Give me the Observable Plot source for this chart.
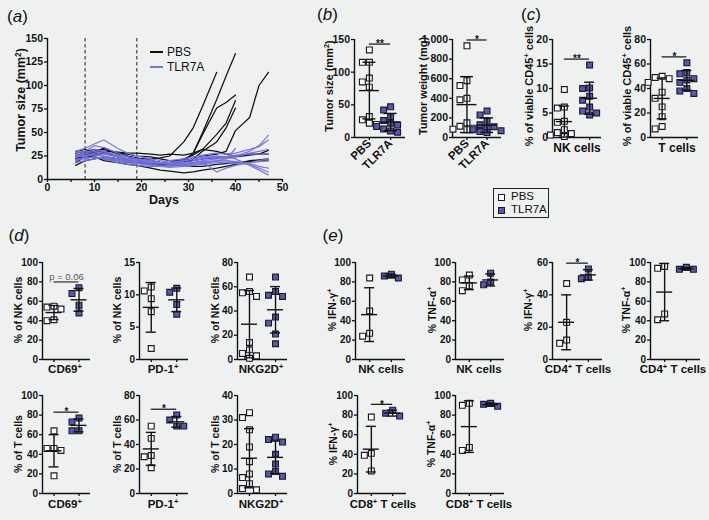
<!DOCTYPE html>
<html><head><meta charset="utf-8">
<script src="https://cdn.jsdelivr.net/npm/d3@7"></script>
<script src="https://cdn.jsdelivr.net/npm/@observablehq/plot@0.6"></script>
<style>
html,body{margin:0;padding:0;background:#eff1f1;}
#fig{position:relative;width:709px;height:520px;background:#eff1f1;font-family:"Liberation Sans",Arial,Helvetica,sans-serif;color:#111;overflow:hidden}
.lbl{position:absolute;white-space:nowrap;line-height:1;}
.lbl sup{font-size:0.66em;vertical-align:0.5em;line-height:0}
</style></head><body><div id="fig"></div>
<script>
// ---------- DATA ----------
const groups = ["PBS", "TLR7A"];

// (a) tumour growth curves: measurement days and tumour size per mouse (mm²)
const days = [6, 8, 10, 12, 15, 17, 19, 22, 24, 26, 29, 31, 33, 36, 38, 40, 43, 45, 47];
const pbsMice = [
  [20, 26, 28, 30, 25, 22, 22, 22, 23, 25, 40, 55, 78, 114],
  [24, 28, 30, 33, 28, 25, 23, 20, 18, 17, 20, 28, 50, 85, 110, 134],
  [28, 30, 32, 28, 24, 22, 20, 18, 16, 15, 18, 28, 48, 76, 82, 90],
  [18, 24, 26, 28, 24, 22, 21, 19, 18, 18, 22, 26, 32, 48, 60, 84],
  [22, 25, 24, 22, 20, 18, 18, 16, 15, 15, 17, 22, 30, 40, 55, 76],
  [25, 28, 30, 32, 28, 27, 25, 24, 22, 20, 20, 22, 25, 27, 30, 52, 66, 100, 114],
  [30, 32, 28, 30, 29, 28, 28, 27, 26, 27, 26, 28, 32, 30, 27, 25, 27, 27, 31],
  [26, 28, 26, 34, 27, 25, 22, 20, 18, 17, 18, 20, 22, 23, 24, 24, 26, 27, 27],
  [22, 26, 24, 20, 18, 16, 15, 12, 10, 9, 7, 8, 10, 12, 14, 16, 20, 21, 22],
  [15, 20, 22, 24, 22, 20, 19, 18, 17, 16, 15, 14, 14, 16, 17, 18, 19, 20, 20]
];
const tlrMice = [
  [30, 33, 38, 42, 33, 28, 25, 22, 20, 18, 20, 22, 24, 22, 24, 25, 30, 36, 47],
  [28, 30, 36, 34, 28, 24, 22, 20, 18, 20, 22, 24, 26, 28, 27, 28, 32, 35, 42],
  [25, 27, 30, 28, 24, 22, 20, 18, 17, 16, 18, 20, 22, 24, 22, 24, 28, 30, 32],
  [20, 24, 28, 30, 26, 24, 22, 20, 18, 17, 16, 18, 20, 22, 24, 26, 27, 27, 27],
  [22, 22, 24, 22, 20, 19, 18, 16, 15, 14, 15, 16, 17, 20, 22, 33],
  [18, 20, 22, 24, 20, 18, 17, 15, 14, 13, 14, 15, 16, 18, 18, 17, 18, 20, 22],
  [24, 26, 26, 25, 22, 20, 19, 18, 17, 17, 18, 18, 19, 8, 12, 15, 18, 19, 20],
  [20, 23, 24, 22, 18, 16, 15, 14, 14, 15, 16, 17, 18, 19, 20, 18, 16, 12, 8],
  [26, 28, 32, 30, 25, 22, 21, 19, 18, 18, 20, 22, 24, 25, 24, 22, 15, 10, 5],
  [24, 25, 27, 27, 24, 22, 20, 19, 18, 17, 17, 18, 19, 20, 20, 19, 17, 14, 12]
];
const treatmentDays = [8, 19];
const aYTicks = [0, 25, 50, 75, 100, 125, 150];
const aXTicks = [0, 5, 10, 15, 20, 25, 30, 35, 40, 45, 50];

// (b)
const bSizePBS = [134, 115, 115, 91, 85, 77, 32, 27, 22, 20];
const bSizeTLR = [47, 42, 32, 26, 22, 19, 17, 13, 10, 8];
const bWeightPBS = [935, 580, 530, 400, 385, 150, 115, 95, 85, 80];
const bWeightTLR = [270, 230, 165, 130, 110, 95, 80, 70, 60, 50];
// (c)
const cNKPBS = [9.8, 6.2, 6.0, 3.3, 3.1, 1.6, 1.0, 0.8, 0.5, 0.2];
const cNKTLR = [14.8, 10.1, 10.0, 8.4, 7.6, 6.2, 5.4, 5.0, 4.6];
const cTPBS = [50, 49, 48, 45, 37, 32, 25, 17, 9, 7];
const cTTLR = [61, 53, 52, 48, 47, 45, 40, 38, 36];
// (d) NK cells (top) and T cells (bottom)
const dNKCD69PBS = [55, 54, 52, 41, 40];
const dNKCD69TLR = [74, 68, 56, 48];
const dNKPD1PBS = [11.2, 10.6, 9.4, 7.4, 1.7];
const dNKPD1TLR = [11.0, 10.4, 8.5, 7.0];
const dNKNKG2DPBS = [68, 56, 55, 52, 14, 8, 5, 3, 1];
const dNKNKG2DTLR = [68, 56, 53, 52, 35, 30, 21, 13];
const dTCD69PBS = [64, 46, 46, 44, 18];
const dTCD69TLR = [77, 73, 64, 64];
const dTPD1PBS = [55, 45, 31, 30, 21];
const dTPD1TLR = [64, 60, 55, 55];
const dTNKG2DPBS = [33, 31, 26, 19, 13, 8, 6.5, 4, 2, 1.5];
const dTNKG2DTLR = [23, 22, 21, 16, 12, 9, 8, 7];
// (e) cytokine-producing cells
const eNKIFNPBS = [84, 50, 27, 24];
const eNKIFNTLR = [84, 88, 86];
const eNKTNFPBS = [87, 82, 76, 71];
const eNKTNFTLR = [89, 80, 77];
const eCD4IFNPBS = [47, 23, 12, 10];
const eCD4IFNTLR = [56, 51, 50];
const eCD4TNFPBS = [96, 94, 47, 41];
const eCD4TNFTLR = [95, 93, 93];
const eCD8IFNPBS = [78, 41, 39, 23];
const eCD8IFNTLR = [85, 82, 79];
const eCD8TNFPBS = [92, 90, 47, 44];
const eCD8TNFTLR = [89, 92, 91];

// significance labels
const sigB = ["**", "*"];
const sigC = ["**", "*"];
const sigD = ["p = 0.06", "*", "*"];
const sigE = ["*", "*"];

// tick values
const ticks150 = [0, 50, 100, 150];
const ticks1000 = [0, 200, 400, 600, 800, 1000];
const ticks20 = [0, 5, 10, 15, 20];
const ticks80 = [0, 20, 40, 60, 80];
const ticks100 = [0, 20, 40, 60, 80, 100];
const ticks15 = [0, 5, 10, 15];
const ticks40 = [0, 10, 20, 30, 40];
const ticks60 = [0, 20, 40, 60];

// ---------- DRAWING ----------
const fig = document.getElementById("fig");
const FONT = '"Liberation Sans", Arial, Helvetica, sans-serif';
const PURPLE = "#5a57b6";
const LINEBLUE = "#7673e4";

function place(svg, left, top) {
  svg.style.position = "absolute";
  svg.style.left = left + "px";
  svg.style.top = top + "px";
  fig.appendChild(svg);
}
function label(html, cx, cy, o = {}) {
  const d = document.createElement("div");
  d.className = "lbl";
  d.innerHTML = html;
  d.style.left = cx + "px";
  d.style.top = cy + "px";
  d.style.fontSize = (o.size || 11) + "px";
  d.style.fontWeight = o.weight || 700;
  d.style.color = o.color || "#111";
  d.style.transform = `translate(-50%,-50%) rotate(${o.rotate || 0}deg)`;
  fig.appendChild(d);
  return d;
}

// ----- (a) -----
(function () {
  const x0 = 47, x1 = 282, y0 = 38, y1 = 179;
  const ml = 32, mr = 6, mt = 4, mb = 20;
  const toRows = (mice, g) => mice.flatMap((vals, i) => vals.map((v, j) => ({id: g + i, day: days[j], size: v})));
  const pbsRows = toRows(pbsMice, "P");
  const tlrRows = toRows(tlrMice, "T");
  const svg = Plot.plot({
    width: x1 - x0 + ml + mr, height: y1 - y0 + mt + mb,
    marginLeft: ml, marginRight: mr, marginTop: mt, marginBottom: mb,
    x: {domain: [0, 50], label: null},
    y: {domain: [0, 150], label: null},
    style: {background: "transparent", fontFamily: FONT, fontSize: "10.5px", fontWeight: "bold", color: "#111", overflow: "visible"},
    marks: [
      Plot.ruleX(treatmentDays, {stroke: "#333", strokeWidth: 1.1, strokeDasharray: "3.5,2.5"}),
      Plot.line(pbsRows, {x: "day", y: "size", z: "id", stroke: "#111", strokeWidth: 1.25}),
      Plot.line(tlrRows, {x: "day", y: "size", z: "id", stroke: LINEBLUE, strokeWidth: 1.3, strokeOpacity: 0.95}),
      Plot.ruleY([0], {stroke: "#111", strokeWidth: 1.4}),
      Plot.ruleX([0], {stroke: "#111", strokeWidth: 1.4}),
      Plot.axisY(aYTicks, {tickSize: 3, tickPadding: 1.5, label: null, strokeWidth: 1.3}),
      Plot.axisX(aXTicks, {tickSize: 3, tickPadding: 1, label: null, strokeWidth: 1.3, tickFormat: d => d % 10 === 0 ? d : ""})
    ]
  });
  place(svg, x0 - ml, y0 - mt);
  label("Tumor size (mm<sup>2</sup>)", 21, 100, {size: 12.5, rotate: -90});
  label("Days", 164, 200, {size: 12.5});
  // legend
  [["PBS", "#111", 52], ["TLR7A", LINEBLUE, 67]].forEach(([t, c, y]) => {
    const l = document.createElement("div");
    l.style.cssText = `position:absolute;left:150px;top:${y - 1}px;width:13px;height:0;border-top:2px solid ${c}`;
    fig.appendChild(l);
    const d = label(t, 0, y, {size: 12, weight: 400});
    d.style.left = "167px"; d.style.transform = "translate(0,-50%)";
  });
})();

// ----- dot-plot panels -----
function dotPanel(c) {
  const ml = 30, mr = 6, mt = 16, mb = c.rotate ? 46 : 8;
  const xDomain = [-c.pad, 1 + c.pad];
  const stepPx = (c.x1 - c.x0) / (1 + 2 * c.pad);
  const pxPerY = (c.y1 - c.y0) / (c.yDomain[1] - c.yDomain[0]);
  const sq = 7;
  const pts = [];
  [c.pbs, c.tlr].forEach((vals, g) => {
    const placed = [];
    [...vals].sort((a, b) => b - a).forEach(v => {
      const py = v * pxPerY;
      let k = [0, -1, 1, -2, 2].find(k => !placed.some(p => p.k === k && Math.abs(p.py - py) < sq - 0.5));
      if (k === undefined) k = 0;
      placed.push({k, py});
      pts.push({g, v, x: g + k * sq / stepPx});
    });
  });
  const stats = [c.pbs, c.tlr].map((vals, g) => {
    const m = d3.mean(vals), s = d3.deviation(vals);
    return {g, m, lo: Math.max(c.yDomain[0], m - s), hi: m + s};
  });
  const mh = (c.meanHalf || 8) / stepPx, ch = (c.capHalf || 5) / stepPx;
  const marks = [
    Plot.ruleY([c.yDomain[0]], {stroke: "#111", strokeWidth: 1.4}),
    Plot.ruleX([xDomain[0]], {stroke: "#111", strokeWidth: 1.4}),
    Plot.axisY(c.yTicks, {tickSize: 3, tickPadding: 1.5, label: null, strokeWidth: 1.3}),
    Plot.axisX([0, 1], {tickSize: 3, tickPadding: 1, label: null, strokeWidth: 1.3,
      tickFormat: c.rotate ? (i => groups[i]) : (() => ""), tickRotate: c.rotate ? -45 : 0,
      fontSize: c.rotate ? 11.5 : 10}),
    Plot.dot(pts, {x: "x", y: "v", symbol: "square", r: 3.3, fill: d => d.g ? PURPLE : "#fbfbfb", stroke: "#1c1c28", strokeWidth: 1.15}),
    Plot.ruleX(stats, {x: "g", y1: "lo", y2: "hi", stroke: "#111", strokeWidth: 1.4}),
    Plot.ruleY(stats, {y: "m", x1: d => d.g - mh, x2: d => d.g + mh, stroke: "#111", strokeWidth: 1.4}),
    Plot.ruleY(stats, {y: "lo", x1: d => d.g - ch, x2: d => d.g + ch, stroke: "#111", strokeWidth: 1.4}),
    Plot.ruleY(stats, {y: "hi", x1: d => d.g - ch, x2: d => d.g + ch, stroke: "#111", strokeWidth: 1.4})
  ];
  if (c.sig) {
    const span = c.yDomain[1] - c.yDomain[0];
    const top = Math.max(...c.pbs, ...c.tlr, ...stats.map(s => s.hi)) + 0.06 * span;
    const isP = c.sig.startsWith("p");
    marks.push(
      Plot.ruleY([top], {x1: () => 0, x2: () => 1, stroke: isP ? "#6e6e6e" : "#111", strokeWidth: isP ? 1.8 : 1.2}),
      Plot.text([c.sig], {x: () => 0.5, y: () => top, text: d => d, lineAnchor: "bottom",
        dy: isP ? -2 : 3.2, fontSize: isP ? 9.5 : 10, fontWeight: isP ? "normal" : "bold", fill: isP ? "#555" : "#111"})
    );
  }
  const svg = Plot.plot({
    width: c.x1 - c.x0 + ml + mr, height: c.y1 - c.y0 + mt + mb,
    marginLeft: ml, marginRight: mr, marginTop: mt, marginBottom: mb,
    x: {domain: xDomain, label: null},
    y: {domain: c.yDomain, label: null},
    style: {background: "transparent", fontFamily: FONT, fontSize: (c.font || 10) + "px", fontWeight: "bold", color: "#111", overflow: "visible"},
    marks
  });
  place(svg, c.x0 - ml, c.y0 - mt);
}

// (b)
dotPanel({x0: 354, x1: 405, y0: 39, y1: 137, pad: 0.7, yDomain: [0, 150], yTicks: ticks150, pbs: bSizePBS, tlr: bSizeTLR, sig: sigB[0], rotate: true, meanHalf: 10, capHalf: 6.5, font: 10.5});
dotPanel({x0: 452, x1: 501, y0: 39, y1: 137, pad: 0.72, yDomain: [0, 1000], yTicks: ticks1000, pbs: bWeightPBS, tlr: bWeightTLR, sig: sigB[1], rotate: true, meanHalf: 10, capHalf: 6.5, font: 10.5});
// (c)
dotPanel({x0: 552, x1: 601, y0: 39, y1: 137, pad: 0.47, yDomain: [0, 20], yTicks: ticks20, pbs: cNKPBS, tlr: cNKTLR, sig: sigC[0], font: 10.5});
dotPanel({x0: 650, x1: 698, y0: 39, y1: 137, pad: 0.47, yDomain: [0, 80], yTicks: ticks80, pbs: cTPBS, tlr: cTTLR, sig: sigC[1], font: 10.5});
// (d)
dotPanel({x0: 42, x1: 90, y0: 262, y1: 359, pad: 0.46, yDomain: [0, 100], yTicks: ticks100, pbs: dNKCD69PBS, tlr: dNKCD69TLR, sig: sigD[0]});
dotPanel({x0: 139, x1: 188, y0: 262, y1: 359, pad: 0.46, yDomain: [0, 15], yTicks: ticks15, pbs: dNKPD1PBS, tlr: dNKPD1TLR});
dotPanel({x0: 237, x1: 287, y0: 262, y1: 359, pad: 0.46, yDomain: [0, 80], yTicks: ticks80, pbs: dNKNKG2DPBS, tlr: dNKNKG2DTLR});
dotPanel({x0: 42, x1: 90, y0: 395, y1: 493, pad: 0.46, yDomain: [0, 100], yTicks: ticks100, pbs: dTCD69PBS, tlr: dTCD69TLR, sig: sigD[1]});
dotPanel({x0: 139, x1: 188, y0: 395, y1: 493, pad: 0.46, yDomain: [0, 80], yTicks: ticks80, pbs: dTPD1PBS, tlr: dTPD1TLR, sig: sigD[2]});
dotPanel({x0: 237, x1: 287, y0: 395, y1: 493, pad: 0.46, yDomain: [0, 40], yTicks: ticks40, pbs: dTNKG2DPBS, tlr: dTNKG2DTLR});
// (e)
dotPanel({x0: 355, x1: 405, y0: 262, y1: 359, pad: 0.65, yDomain: [0, 100], yTicks: ticks100, pbs: eNKIFNPBS, tlr: eNKIFNTLR});
dotPanel({x0: 455, x1: 504, y0: 262, y1: 359, pad: 0.65, yDomain: [0, 100], yTicks: ticks100, pbs: eNKTNFPBS, tlr: eNKTNFTLR});
dotPanel({x0: 552, x1: 602, y0: 262, y1: 359, pad: 0.65, yDomain: [0, 60], yTicks: ticks60, pbs: eCD4IFNPBS, tlr: eCD4IFNTLR, sig: sigE[0]});
dotPanel({x0: 650, x1: 700, y0: 262, y1: 359, pad: 0.65, yDomain: [0, 100], yTicks: ticks100, pbs: eCD4TNFPBS, tlr: eCD4TNFTLR});
dotPanel({x0: 357, x1: 406, y0: 395, y1: 493, pad: 0.65, yDomain: [0, 100], yTicks: ticks100, pbs: eCD8IFNPBS, tlr: eCD8IFNTLR, sig: sigE[1]});
dotPanel({x0: 455, x1: 504, y0: 395, y1: 493, pad: 0.65, yDomain: [0, 100], yTicks: ticks100, pbs: eCD8TNFPBS, tlr: eCD8TNFTLR});

// ----- text labels -----
const panelLetter = (t, x, y) => label(`(<i>${t}</i>)`, x, y, {size: 17, weight: 400});
panelLetter("a", 17.5, 15.5);
panelLetter("b", 327.5, 13.5);
panelLetter("c", 531, 13.5);
panelLetter("d", 19, 235);
panelLetter("e", 333, 235);

label("Tumor size (mm<sup>2</sup>)", 329, 86, {size: 11, rotate: -90});
label("Tumor weight (mg)", 423, 86, {size: 11, rotate: -90});
label("% of viable CD45<sup>+</sup> cells", 529, 86, {size: 11, rotate: -90});
label("% of viable CD45<sup>+</sup> cells", 627, 86, {size: 11, rotate: -90});
label("NK cells", 577, 148, {size: 12});
label("T cells", 677, 148, {size: 12});

[[18, "% of NK cells", 310], [117, "% of NK cells", 310], [215, "% of NK cells", 310],
 [18, "% of T cells", 444], [117, "% of T cells", 444], [215, "% of T cells", 444]]
  .forEach(([x, t, y]) => label(t, x, y, {size: 10.5, rotate: -90}));
[[65, "CD69<sup>+</sup>"], [163, "PD-1<sup>+</sup>"], [261, "NKG2D<sup>+</sup>"]].forEach(([x, t]) => {
  label(t, x, 370, {size: 11.5});
  label(t, x, 505, {size: 11.5});
});
[[332, 310, "% IFN-γ<sup>+</sup>"], [432, 310, "% TNF-α<sup>+</sup>"], [528, 310, "% IFN-γ<sup>+</sup>"], [626, 310, "% TNF-α<sup>+</sup>"],
 [333, 444, "% IFN-γ<sup>+</sup>"], [431, 444, "% TNF-α<sup>+</sup>"]]
  .forEach(([x, y, t]) => label(t, x, y, {size: 10.5, rotate: -90}));
[[381, 370, "NK cells"], [479, 370, "NK cells"], [578, 370, "CD4<sup>+</sup> T cells"], [673, 370, "CD4<sup>+</sup> T cells"],
 [383, 505, "CD8<sup>+</sup> T cells"], [479, 505, "CD8<sup>+</sup> T cells"]]
  .forEach(([x, y, t]) => label(t, x, y, {size: 11.5}));

// ----- shared legend -----
(function () {
  const box = document.createElement("div");
  box.style.cssText = "position:absolute;left:493px;top:188px;width:56px;height:30px;border:1px solid #222;box-sizing:border-box";
  fig.appendChild(box);
  [["PBS", "#fbfbfb", 197], ["TLR7A", PURPLE, 210]].forEach(([t, f, y]) => {
    const s = document.createElement("div");
    s.style.cssText = `position:absolute;left:498px;top:${y - 3.5}px;width:7px;height:7px;box-sizing:border-box;border:1.2px solid #1c1c28;background:${f}`;
    fig.appendChild(s);
    const d = label(t, 0, y, {size: 11.5, weight: 400});
    d.style.left = "511px"; d.style.transform = "translate(0,-50%)";
  });
})();
</script></body></html>
